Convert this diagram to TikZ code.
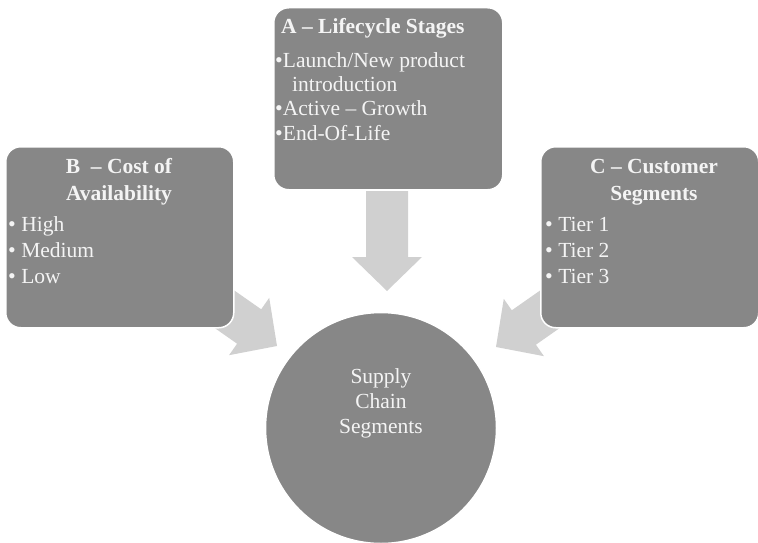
\documentclass[tikz,border=0pt]{standalone}
\usepackage{fontspec}
\setmainfont{Liberation Serif}
\definecolor{boxgray}{HTML}{878787}
\definecolor{arrowgray}{HTML}{D0D0D0}
\definecolor{textwhite}{HTML}{F4F4F4}
\newcommand{\blt}{{\fontsize{22}{22}\selectfont•}}
\begin{document}
\begin{tikzpicture}[x=1pt,y=-1pt,
  panel/.style={draw=white, line width=1.5pt, fill=boxgray, rounded corners=15pt,
    anchor=north west, inner sep=0pt},
  hub/.style={circle, draw=white, line width=1.5pt, fill=boxgray, inner sep=0pt,
    minimum size=231pt},
  txt/.style={text=textwhite, inner sep=0pt, font=\fontsize{21.5}{24}\selectfont},
  ttl/.style={txt, font=\fontsize{21.5}{24}\selectfont\bfseries},
  blockarrow/.style={fill=arrowgray}]
\useasboundingbox (0,0) rectangle (758,543);

% tips of the three block arrows
\coordinate (tipA) at (387,291);
\coordinate (tipB) at (277,346);
\coordinate (tipC) at (496,347);

% block arrows (drawn first, panels sit on top of their tails)
\foreach \t/\a in {tipA/-90, tipB/-35, tipC/215}
  \fill[blockarrow, shift={(\t)}, rotate=\a]
    (0,0) -- (-34,35) -- (-34,21) -- (-100,21) -- (-100,-21)
    -- (-34,-21) -- (-34,-35) -- cycle;

% panels
\node[panel, minimum width=229pt, minimum height=182pt] (A) at (273,7) {};
\node[panel, minimum width=228pt, minimum height=181pt] (B) at (5,146) {};
\node[panel, minimum width=218pt, minimum height=181pt] (C) at (540,146) {};

% central circle
\node[hub] (S) at (381,428) {};

% panel A text
\node[ttl, anchor=base west] (At) at (281,34) {A -- Lifecycle Stages};
\node[txt, anchor=base west] (A1) at (275,68) {\blt Launch/New product};
\node[txt, anchor=base west] (A1b) at (292,92) {introduction};
\node[txt, anchor=base west] (A2) at (275,115) {\blt Active -- Growth};
\node[txt, anchor=base west] (A3) at (275,140) {\blt End-Of-Life};

% panel B text
\node[ttl, anchor=base] (Bt1) at (119,173) {B \ -- Cost of};
\node[ttl, anchor=base] (Bt2) at (119,200) {Availability};
\node[txt, anchor=base west] (B1) at (8,231) {\blt\ High};
\node[txt, anchor=base west] (B2) at (8,257) {\blt\ Medium};
\node[txt, anchor=base west] (B3) at (8,283) {\blt\ Low};

% panel C text
\node[ttl, anchor=base] (Ct1) at (654,173) {C -- Customer};
\node[ttl, anchor=base] (Ct2) at (654,200) {Segments};
\node[txt, anchor=base west] (C1) at (545,231) {\blt\ Tier 1};
\node[txt, anchor=base west] (C2) at (545,257) {\blt\ Tier 2};
\node[txt, anchor=base west] (C3) at (545,283) {\blt\ Tier 3};

% circle text
\node[txt, anchor=base] (S1) at (381,383) {Supply};
\node[txt, anchor=base] (S2) at (381,408) {Chain};
\node[txt, anchor=base] (S3) at (381,433) {Segments};
\end{tikzpicture}
\end{document}
